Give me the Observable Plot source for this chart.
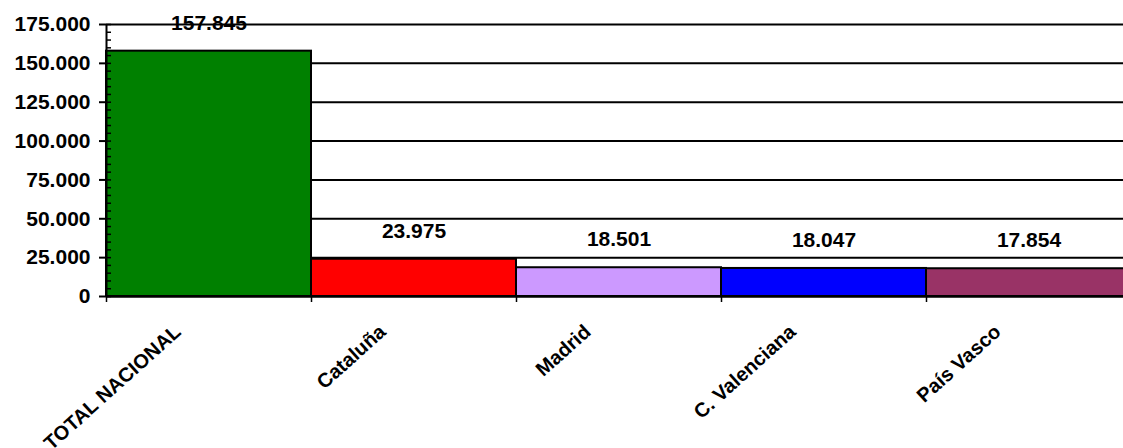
<!DOCTYPE html>
<html>
<head>
<meta charset="utf-8">
<script src="https://cdn.jsdelivr.net/npm/d3@7"></script>
<script src="https://cdn.jsdelivr.net/npm/@observablehq/plot@0.6"></script>
<style>
  html, body { margin: 0; padding: 0; background: white; overflow: hidden; }
</style>
</head>
<body>
<div id="chart"></div>
<script>
const categories = ["TOTAL NACIONAL", "Cataluña", "Madrid", "C. Valenciana", "País Vasco"];
const values = [157845, 23975, 18501, 18047, 17854];
const colors = ["#008000", "#FF0000", "#CC99FF", "#0000FF", "#993366"];
const yTicks = [0, 25000, 50000, 75000, 100000, 125000, 150000, 175000];
const minorTicks = d3.range(0, 175001, 5000);

const fmt = d3.formatLocale({decimal: ",", thousands: ".", grouping: [3], currency: ["", ""]}).format(",");
const rows = categories.map((c, i) => ({i, cat: c, value: values[i], color: colors[i]}));
const bounds = d3.range(0, categories.length + 1);

const chart = Plot.plot({
  width: 1131,
  height: 448,
  marginLeft: 106,
  marginRight: 0,
  marginTop: 24,
  marginBottom: 152,
  style: {maxWidth: "none", fontFamily: "'Liberation Sans', Arial, sans-serif", fontSize: "21px", fontWeight: "bold", color: "black", background: "white", overflow: "hidden"},
  x: {domain: [0, categories.length], axis: null},
  y: {domain: [0, 175000], axis: null},
  color: {type: "identity"},
  marks: [
    Plot.ruleY(yTicks, {stroke: "black", strokeWidth: 2}),
    Plot.rectY(rows, {x1: "i", x2: d => d.i + 1, y: "value", fill: "color", stroke: "black", strokeWidth: 2}),
    Plot.ruleX([0], {stroke: "black", strokeWidth: 2}),
    Plot.ruleY([0], {stroke: "black", strokeWidth: 2}),
    Plot.axisY({ticks: yTicks, tickSize: 7, tickPadding: 9, tickFormat: fmt, strokeWidth: 2, label: null}),
    Plot.axisY({ticks: minorTicks, tickSize: -5, tickFormat: () => "", strokeWidth: 1.5, label: null}),
    Plot.axisX({ticks: bounds, tickSize: 6, tickFormat: () => "", strokeWidth: 1.5, label: null}),
    Plot.text(rows, {x: d => d.i + 0.5, y: "value", text: d => fmt(d.value), dy: -28, fill: "black"}),
    Plot.text(rows, {x: d => d.i + 0.5, y: () => 0, text: "cat", rotate: -42, textAnchor: "end", lineAnchor: "bottom", dx: -27, dy: 37, fontSize: 20, fill: "black"})
  ]
});
document.getElementById("chart").appendChild(chart);
</script>
</body>
</html>
